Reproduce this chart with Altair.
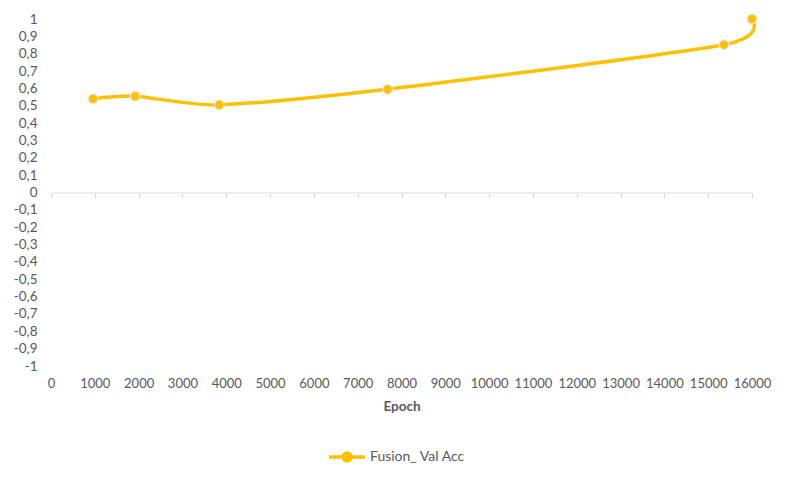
import altair as alt
import pandas as pd

# data
epochs = [960, 1920, 3840, 7680, 15360, 16000]
val_acc = [0.54, 0.555, 0.505, 0.595, 0.852, 1.0]
series = ["Fusion_ Val Acc"] * len(epochs)

x_ticks = list(range(0, 16001, 1000))
y_ticks = [round(-1 + 0.1 * i, 1) for i in range(21)]

df = pd.DataFrame({"epoch": epochs, "acc": val_acc, "series": series})

W, H = 701, 347
FONT = "Lato"
GREY = "#595959"
YELLOW = "#FFC000"

x_enc = alt.X(
    "epoch:Q",
    scale=alt.Scale(domain=[0, 16000], nice=False, zero=False),
    axis=alt.Axis(
        values=x_ticks,
        format="d",
        offset=-H / 2,
        domainColor="#D9D9D9",
        tickColor="#D9D9D9",
        tickSize=5,
        grid=False,
        labelOverlap=False,
        labelFlush=False,
        labelPadding=180,
        labelFont=FONT,
        labelFontSize=13,
        labelColor=GREY,
        title="Epoch",
        titleFont=FONT,
        titleFontSize=13.5,
        titleFontWeight="bold",
        titleColor=GREY,
        titlePadding=9,
    ),
)
y_enc = alt.Y(
    "acc:Q",
    scale=alt.Scale(domain=[-1, 1], nice=False, zero=False),
    axis=alt.Axis(
        values=y_ticks,
        labelExpr="replace(replace(format(datum.value, '.1~f'), '.', ','), '\u2212', '-')",
        labelOverlap=False,
        domain=False,
        ticks=False,
        tickSize=0,
        grid=False,
        labelPadding=14,
        labelFont=FONT,
        labelFontSize=13.5,
        labelColor=GREY,
        title=None,
    ),
)

base = alt.Chart(df)

line = base.mark_line(
    interpolate="cardinal", tension=0.3, strokeWidth=3.5, color=YELLOW
).encode(x=x_enc, y=y_enc)

legend_path = (
    "M-1,0L1,0M0.22,0A0.22,0.22,0,1,1,-0.22,0A0.22,0.22,0,1,1,0.22,0Z"
)

points = base.mark_point(
    filled=True, size=95, stroke="#E8E8E8", strokeWidth=1.2, opacity=1
).encode(
    x=x_enc,
    y=y_enc,
    color=alt.Color(
        "series:N",
        scale=alt.Scale(range=[YELLOW]),
        legend=alt.Legend(
            title=None,
            orient="none",
            legendX=276,
            legendY=418,
            symbolType=legend_path,
            symbolSize=1296,
            symbolFillColor=YELLOW,
            symbolStrokeColor=YELLOW,
            symbolStrokeWidth=3.5,
            labelFont=FONT,
            labelFontSize=14,
            labelColor=GREY,
            labelOffset=3,
        ),
    ),
)

chart = (
    alt.layer(line, points)
    .properties(
        width=W,
        height=H,
        padding={"left": 5, "top": 3, "right": 5, "bottom": 5},
        background="white",
    )
    .configure_view(stroke=None)
)

chart.save("out.html", embed_options={"renderer": "svg", "actions": False})
